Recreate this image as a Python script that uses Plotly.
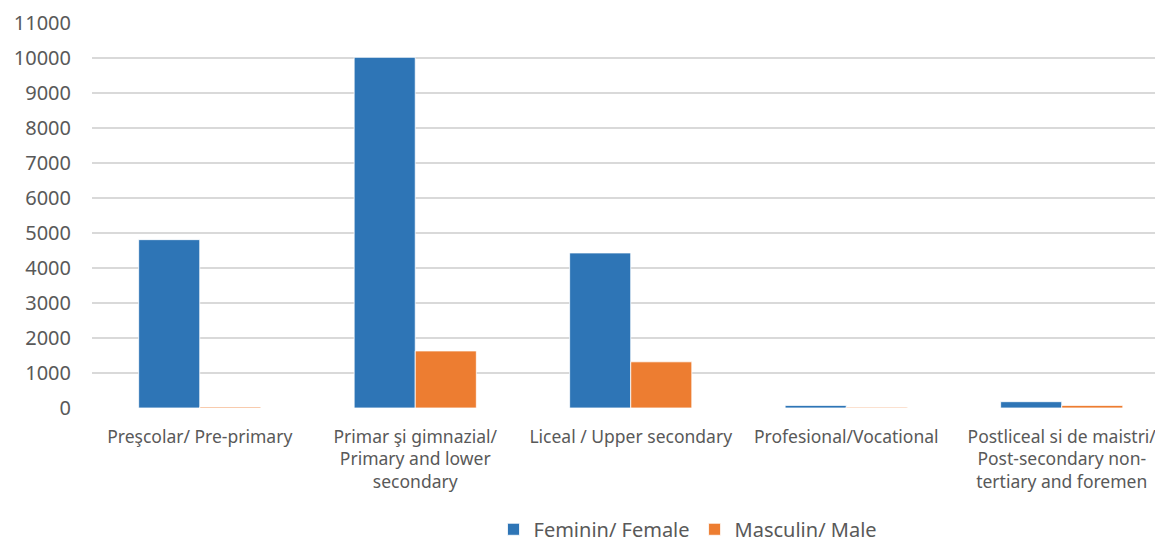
import plotly.graph_objects as go

categories = [
    "Preşcolar/ Pre-primary",
    "Primar şi gimnazial/<br>Primary and lower<br>secondary",
    "Liceal / Upper secondary",
    "Profesional/Vocational",
    "Postliceal si de maistri/<br>Post-secondary non-<br>tertiary and foremen",
]
female = [4810, 10020, 4430, 75, 180]
male = [30, 1630, 1320, 25, 75]
y_ticks = list(range(0, 11001, 1000))

font = "Noto Sans, Open Sans, sans-serif"
grey = "#595959"

fig = go.Figure()
fig.add_trace(go.Bar(x=list(range(len(categories))), y=female, name="Feminin/ Female",
                     marker=dict(color="#2e75b6", line=dict(color="#ffffff", width=0.8))))
fig.add_trace(go.Bar(x=list(range(len(categories))), y=male, name="Masculin/ Male",
                     marker=dict(color="#ed7d31", line=dict(color="#ffffff", width=0.8))))

fig.update_layout(
    width=1155, height=535,
    margin=dict(l=84, r=0, t=15, b=135, autoexpand=False),
    paper_bgcolor="white", plot_bgcolor="white",
    barmode="group", bargap=0.433, bargroupgap=0,
    font=dict(family=font, size=17.5, color=grey),
    showlegend=True,
    legend=dict(orientation="h", xref="paper", yref="paper",
                x=(688 - 92) / 1071, xanchor="center", y=-0.315, yanchor="middle",
                itemwidth=30, font=dict(size=20, color=grey), traceorder="normal"),
    xaxis=dict(tickmode="array", tickvals=list(range(len(categories))), ticktext=categories,
               range=[-0.5, 4.47], showgrid=False, zeroline=False, showline=False,
               ticks="", tickangle=0, ticklabelstandoff=16, tickfont=dict(size=17.5, color=grey)),
    yaxis=dict(range=[0, 11000], tickvals=y_ticks, ticktext=[str(v) for v in y_ticks],
               showgrid=True, gridcolor="#d9d9d9", gridwidth=1.5, zeroline=False,
               showline=False, ticks="", ticklen=0, ticklabelstandoff=20,
               tickfont=dict(size=20, color=grey)),
)
fig.write_html("out.html")
